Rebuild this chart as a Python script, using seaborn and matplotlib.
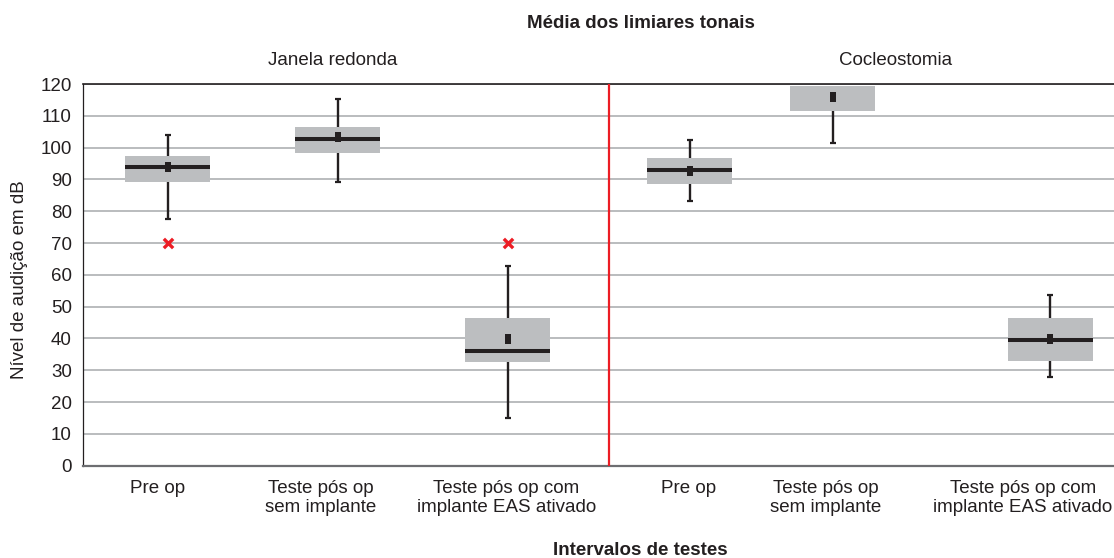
import numpy as np
import pandas as pd
import matplotlib
matplotlib.use("Agg")
import matplotlib.pyplot as plt
import seaborn as sns

# ---------------- data ----------------
groups = ["Janela redonda", "Janela redonda", "Janela redonda",
          "Cocleostomia", "Cocleostomia", "Cocleostomia"]
categories = ["Pre op", "Teste pós op\nsem implante", "Teste pós op com\nimplante EAS ativado",
              "Pre op", "Teste pós op\nsem implante", "Teste pós op com\nimplante EAS ativado"]
q1_vals = [89.3, 98.4, 32.7, 88.7, 111.6, 32.8]
median_vals = [93.9, 102.7, 36.2, 93.1, np.nan, 39.6]   # 5th median hidden above the top of the axis
q3_vals = [97.4, 106.5, 46.4, 96.8, 119.5, 46.3]
whisker_low = [77.7, 89.2, 14.9, 83.1, 101.5, 27.8]
whisker_high = [104.0, 115.3, 62.9, 102.4, np.nan, 53.6]  # 5th upper whisker outside the axis
mean_vals = [93.8, 103.5, 39.7, 92.8, 115.8, 39.7]
outlier_vals = [[70.0], [], [70.0], [], [], []]
yticks = list(range(0, 121, 10))

title = "Média dos limiares tonais"
xlabel = "Intervalos de testes"
ylabel = "Nível de audição em dB"

# ---------------- layout ----------------
box_pos = [0.0, 1.0, 2.0, 3.07, 3.91, 5.19]
label_pos = [-0.06, 0.90, 1.99, 3.065, 3.87, 5.03]
divider_x = 2.594
xlim = (-0.5, 5.565)

BOX = "#BCBEC0"
INK = "#231F20"
RED = "#EC1C24"
GRID = "#A7A9AC"
FS = 13.5

sns.set_style("white")
plt.rcParams["font.family"] = ["Liberation Sans", "DejaVu Sans"]

W, H = 1114, 558
fig = plt.figure(figsize=(W / 100, H / 100), dpi=100)
ax = fig.add_axes([83 / W, 1 - 465.7 / H, 1031 / W, 381.6 / H])

ax.set_xlim(*xlim)
ax.set_ylim(0, 120)
ax.set_yticks(yticks)
ax.yaxis.grid(True, color=GRID, linewidth=1.1)
ax.set_axisbelow(True)

stats = []
for i in range(len(categories)):
    stats.append(dict(q1=q1_vals[i], med=median_vals[i], q3=q3_vals[i],
                      whislo=whisker_low[i], whishi=whisker_high[i],
                      mean=mean_vals[i], fliers=np.array([]), label=categories[i]))

ax.bxp(stats, positions=box_pos, widths=0.5, patch_artist=True,
       showmeans=False, showfliers=False, manage_ticks=False,
       capwidths=0.035,
       boxprops=dict(facecolor=BOX, edgecolor="none", linewidth=0),
       medianprops=dict(color=INK, linewidth=2.9, solid_capstyle="butt"),
       whiskerprops=dict(color=INK, linewidth=1.7, solid_capstyle="butt"),
       capprops=dict(color=INK, linewidth=1.6, solid_capstyle="butt"))

mean_df = pd.DataFrame({"x": box_pos, "mean": mean_vals})
rect = [(-0.3, -0.5), (0.3, -0.5), (0.3, 0.5), (-0.3, 0.5)]
sns.scatterplot(data=mean_df, x="x", y="mean", marker=rect, s=60, color=INK,
                linewidth=0, ax=ax, zorder=5, legend=False)

out_x, out_y = [], []
for p, vals in zip(box_pos, outlier_vals):
    for v in vals:
        out_x.append(p)
        out_y.append(v)
out_df = pd.DataFrame({"x": out_x, "y": out_y})
sns.scatterplot(data=out_df, x="x", y="y", marker="x", s=45, color=RED,
                linewidth=2.4, ax=ax, zorder=5, legend=False)

ax.axvline(divider_x, color=RED, linewidth=1.6, zorder=6)

ax.set_xticks(label_pos)
ax.set_xticklabels(categories, fontsize=FS, color=INK, linespacing=1.15)
ax.tick_params(axis="x", length=0, pad=10)
ax.tick_params(axis="y", length=0, pad=8, labelsize=FS, labelcolor=INK)
ax.set_xlabel("")
ax.set_ylabel("")

ax.spines["right"].set_visible(False)
ax.spines["top"].set_color("#231F20")
ax.spines["top"].set_linewidth(1.2)
ax.spines["left"].set_color("#231F20")
ax.spines["left"].set_linewidth(0.9)
ax.spines["bottom"].set_color("#6D6E71")
ax.spines["bottom"].set_linewidth(1.6)

fig.text(641 / W, 1 - 28 / H, title, ha="center", va="baseline",
         fontsize=FS, fontweight="bold", color=INK)
fig.text(333 / W, 1 - 65 / H, "Janela redonda", ha="center", va="baseline",
         fontsize=FS, color=INK)
fig.text(896 / W, 1 - 65 / H, "Cocleostomia", ha="center", va="baseline",
         fontsize=FS, color=INK)
fig.text(640 / W, 1 - 555 / H, xlabel, ha="center", va="baseline",
         fontsize=FS, fontweight="bold", color=INK)
fig.text(19.5 / W, 1 - 280 / H, ylabel, ha="center", va="center", rotation=90,
         fontsize=FS, color=INK)

fig.savefig("out.png", dpi=100)
